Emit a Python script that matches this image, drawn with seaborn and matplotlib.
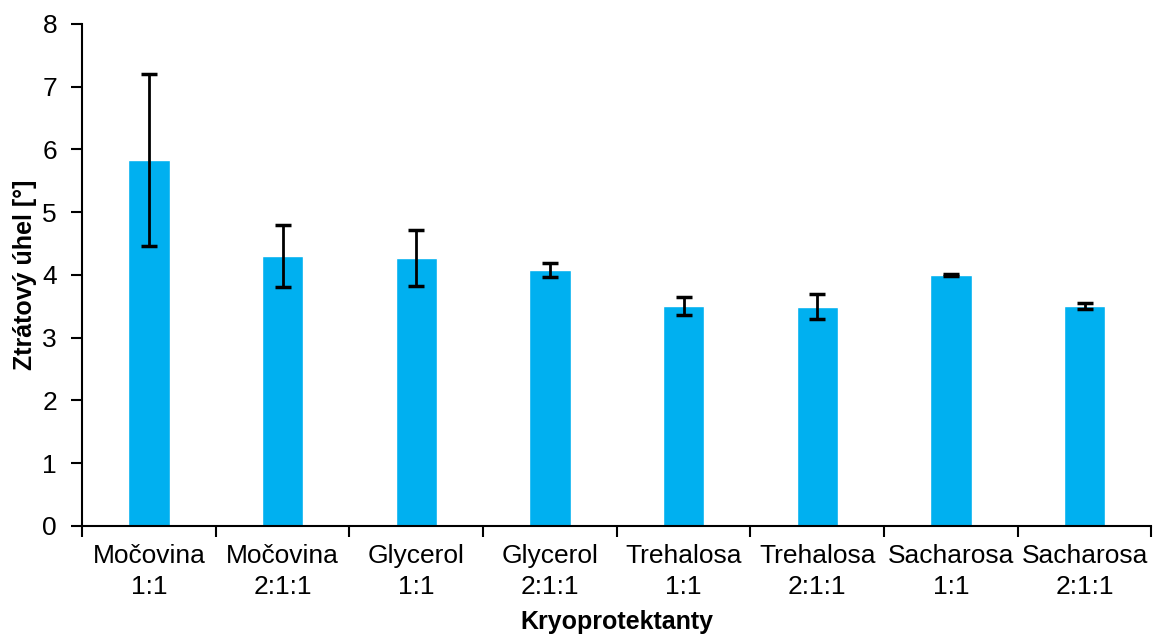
import matplotlib
matplotlib.use("Agg")
import matplotlib.pyplot as plt
import seaborn as sns
import pandas as pd
import numpy as np

categories = ["Močovina\n1:1", "Močovina\n2:1:1", "Glycerol\n1:1", "Glycerol\n2:1:1",
              "Trehalosa\n1:1", "Trehalosa\n2:1:1", "Sacharosa\n1:1", "Sacharosa\n2:1:1"]
values = [5.83, 4.30, 4.27, 4.08, 3.51, 3.49, 4.00, 3.51]
errors = [1.37, 0.50, 0.44, 0.115, 0.145, 0.20, 0.012, 0.05]
yticks = [0, 1, 2, 3, 4, 5, 6, 7, 8]

sns.set_style("white")
plt.rcParams['font.family'] = ['Liberation Sans', 'DejaVu Sans']
plt.rcParams['text.color'] = 'black'
plt.rcParams['axes.labelcolor'] = 'black'
plt.rcParams['xtick.color'] = 'black'
plt.rcParams['ytick.color'] = 'black'

df = pd.DataFrame({"cat": categories, "val": values})

fig = plt.figure(figsize=(11.56, 6.43), dpi=100)
ax = fig.add_axes([0.071, 0.182, 0.925, 0.781])

sns.barplot(data=df, x="cat", y="val", color="#00B0F0", saturation=1, width=0.31, ax=ax, errorbar=None)
ax.errorbar(np.arange(len(values)), values, yerr=errors, fmt="none", ecolor="black",
            elinewidth=2, capsize=6, capthick=2.5)

ax.set_xlim(-0.5, len(categories) - 0.5)
ax.set_ylim(0, 8)
ax.set_yticks(yticks)
ax.set_yticklabels([str(t) for t in yticks], fontsize=19)

ax.set_xticks(np.arange(len(categories)))
ax.set_xticklabels(categories, fontsize=19, linespacing=1.35)
ax.set_xticks(np.arange(-0.5, len(categories)), minor=True)
ax.tick_params(axis="x", which="major", bottom=True, length=0, pad=13)
ax.tick_params(axis="x", which="minor", bottom=True, length=8, width=1.5, color="black", direction="out")
ax.tick_params(axis="y", which="major", left=True, length=8, width=1.5, color="black", direction="out", pad=10)

for s in ["top", "right"]:
    ax.spines[s].set_visible(False)
for s in ["left", "bottom"]:
    ax.spines[s].set_color("black")
    ax.spines[s].set_linewidth(1.5)

ax.set_xlabel("Kryoprotektanty", fontsize=18, fontweight="bold", labelpad=8)
ax.set_ylabel("Ztrátový úhel [°]", fontsize=18, fontweight="bold", labelpad=4)

fig.savefig("out.png", dpi=100)
